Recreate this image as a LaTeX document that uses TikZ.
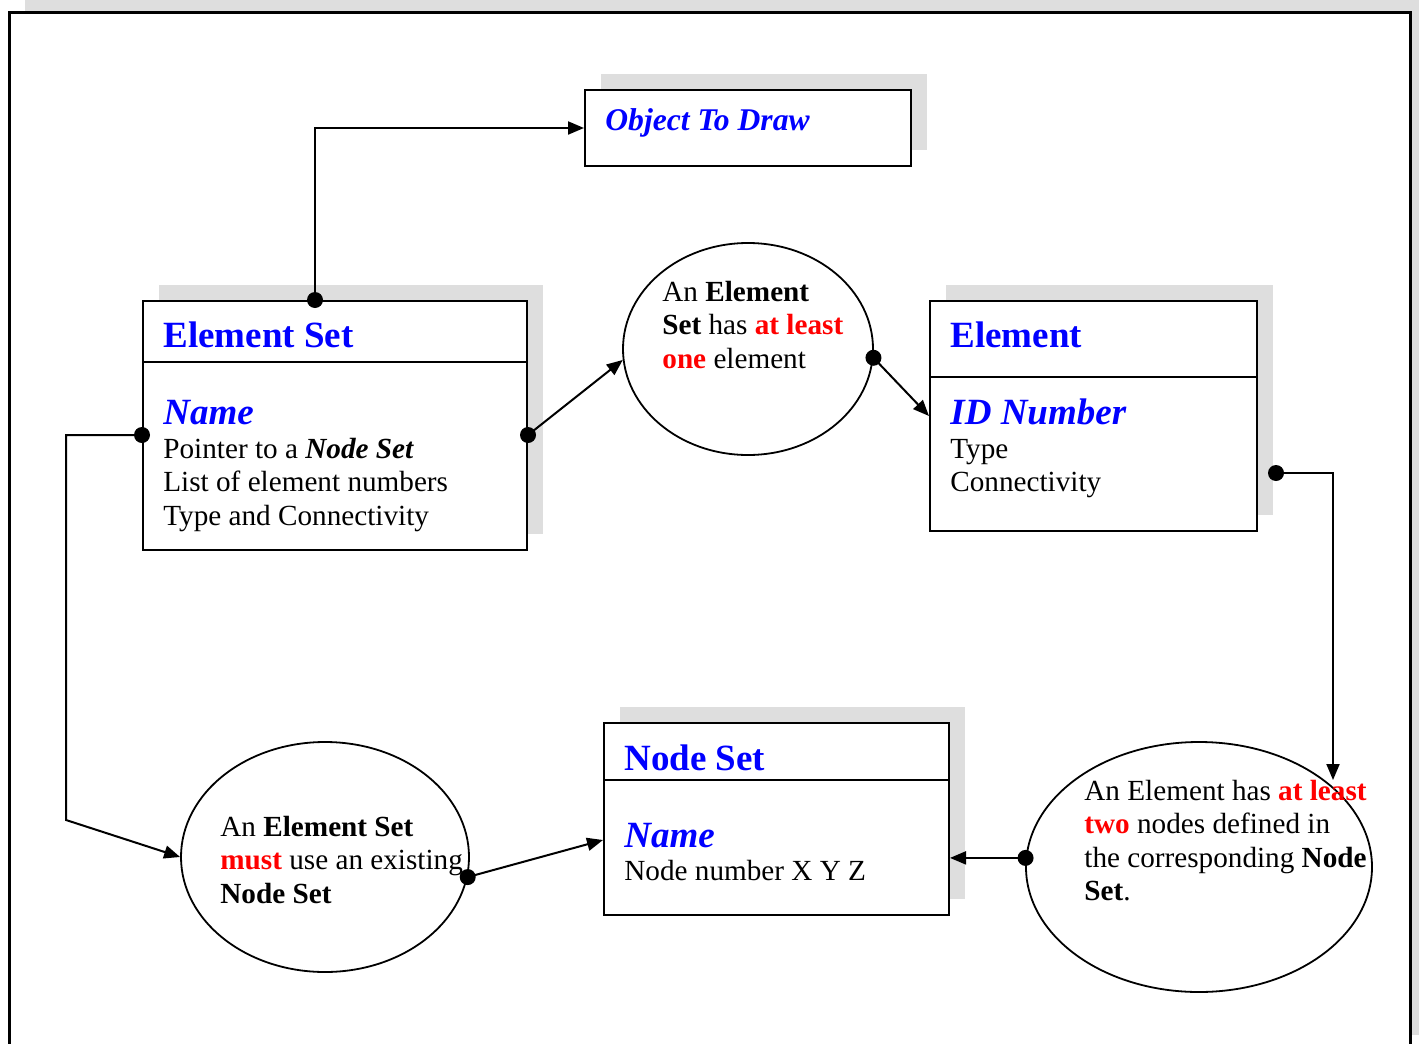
\documentclass[tikz,border=0pt]{standalone}
\usepackage{fontspec}
\setmainfont{Liberation Serif}
\usetikzlibrary{shapes.geometric, arrows.meta, positioning, fit, shadows, calc}
\definecolor{shade}{HTML}{DEDEDE}
\definecolor{title}{HTML}{0000FF}
\definecolor{alert}{HTML}{FF0000}

\begin{document}
\begin{tikzpicture}[
    x=0.5pt, y=-0.5pt,
    >={Triangle[length=8pt,width=6.5pt]},
    frame/.style={draw, fill=white, line width=1.5pt, inner sep=0, general shadow={fill=shade, shadow xshift=8pt, shadow yshift=6pt}},
    cls/.style={draw, line width=1pt, fill=white, inner sep=0, general shadow={fill=shade, shadow xshift=7.75pt, shadow yshift=8pt}},
    note/.style={draw, ellipse, line width=0.9pt, inner sep=0},
    ttl/.style={anchor=base west, inner sep=0, font=\fontsize{18.5}{22}\selectfont\bfseries, text=title},
    fld/.style={ttl, font=\fontsize{18.5}{22}\selectfont\bfseries\itshape},
    txt/.style={anchor=base west, inner sep=0, align=left, font=\fontsize{14.6}{16.75}\selectfont},
    dot/.style={circle, fill, inner sep=0, minimum size=8pt},
    link/.style={line width=1pt},
  ]
  \useasboundingbox (0,0) rectangle (1419,1044);
  \node[frame, fit={(9,12)(1410,1047)}] (page) {};

  % class boxes
  \node[cls, fit={(585,90)(911,166)}] (otd) {};
  \node[cls, fit={(143,301)(527,550)}] (es) {};
  \node[cls, fit={(930,301)(1257,531)}] (el) {};
  \node[cls, fit={(604,723)(949,915)}] (ns) {};
  \draw[link] ([yshift=-31pt]es.north west) -- ([yshift=-31pt]es.north east);
  \draw[link] ([yshift=-38.5pt]el.north west) -- ([yshift=-38.5pt]el.north east);
  \draw[link] ([yshift=-29pt]ns.north west) -- ([yshift=-29pt]ns.north east);

  \node[fld, font=\fontsize{15.8}{19}\selectfont\bfseries\itshape] (otdt) at (605,130) {Object To Draw};

  % multi-line texts sit on the baseline of their last line
  \node[ttl] (est) at (163,347) {Element Set};
  \node[fld] (esn) at (163,424) {Name};
  \node[txt] (esa) at (163,525) {Pointer to a \textbf{\textit{Node Set}}\\List of element numbers\\Type and Connectivity};

  \node[ttl] (elt) at (950,347) {Element};
  \node[fld] (eln) at (950,424) {ID Number};
  \node[txt] (ela) at (950,491.5) {Type\\Connectivity};

  \node[ttl] (nst) at (624,770) {Node Set};
  \node[fld] (nsn) at (624,847) {Name};
  \node[txt] (nsa) at (624,880) {Node number X Y Z};

  % rules between the classes
  \node[note, minimum width=125pt, minimum height=106pt] (e1) at (748,349) {};
  \node[note, minimum width=144pt, minimum height=115pt] (e2) at (325,857) {};
  \node[note, minimum width=173pt, minimum height=125pt] (e3) at (1199,867) {};

  \node[txt] (e1t) at (662,368) {An \textbf{Element}\\\textbf{Set} has \textcolor{alert}{\textbf{at least}}\\\textcolor{alert}{\textbf{one}} element};
  \node[txt] (e2t) at (220,903) {An \textbf{Element Set}\\\textcolor{alert}{\textbf{must}} use an existing\\\textbf{Node Set}};
  \node[txt] (e3t) at (1084,900.5) {An Element has \textcolor{alert}{\textbf{at least}}\\\textcolor{alert}{\textbf{two}} nodes defined in\\the corresponding \textbf{Node}\\\textbf{Set}.};

  % connectors
  \node[dot] (d1) at ([xshift=-10pt]es.north) {};
  \draw[link,->] (d1.center) |- (otd.west);
  \node[dot] (d2) at ([yshift=-4.75pt]es.west) {};
  \coordinate (bend) at (66,820);
  \draw[link,->] (d2.center) -| (bend) -- (e2.west);
  \node[dot] (d3) at ([yshift=-4.75pt]es.east) {};
  \draw[link,->] (d3.center) -- (e1.185);
  \node[dot] (d4) at (e1.-4) {};
  \draw[link,->] (d4.center) -- (el.west);
  \node[dot] (d5) at ([xshift=9pt,yshift=-28.5pt]el.east) {};
  \coordinate (drop) at (1333,780);
  \draw[link,->] (d5.center) -| (drop);
  \node[dot] (d6) at (e3.177) {};
  \draw[link,->] (d6.center) -- (d6.center -| ns.east);
  \node[dot] (d7) at (e2.-8) {};
  \draw[link,->] (d7.center) -- ([yshift=-10.5pt]ns.west);
\end{tikzpicture}
\end{document}
